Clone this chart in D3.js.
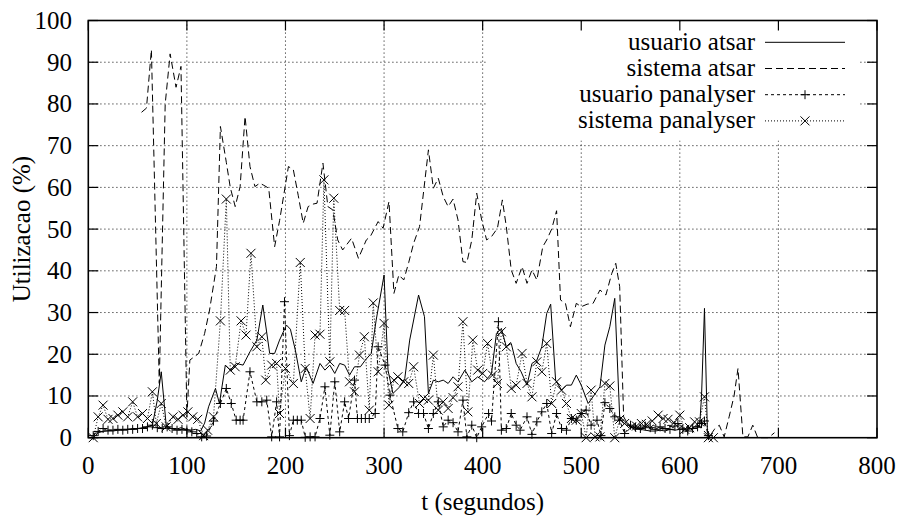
<!DOCTYPE html>
<html>
<head>
<meta charset="utf-8">
<script src="https://cdn.jsdelivr.net/npm/d3@7"></script>
<style>
  body { margin: 0; background: #fff; }
  svg { display: block; }
</style>
</head>
<body>
<svg id="chart"></svg>
<script>

// tick labels
var xTicks = [0, 100, 200, 300, 400, 500, 600, 700, 800];
var yTicks = [0, 10, 20, 30, 40, 50, 60, 70, 80, 90, 100];

var seriesNames = ["usuario atsar", "sistema atsar", "usuario panalyser", "sistema panalyser"];

// [t (s), utilizacao %]
var usuarioAtsar = [[5,1],[10,1.2],[15,1.5],[20,1.6],[25,1.6],[30,1.8],[35,2],[40,2],[45,2.2],[50,2.2],[55,2.4],[60,2.6],[65,3],[70,9],[74,15.8],[79,3],[84,2.2],[89,2],[94,2.4],[99,2],[104,1.8],[109,2],[114,1.6],[118,3.5],[122,7.4],[129,11.8],[133,8.2],[139,17.4],[144,16.2],[150,17.8],[157,17.4],[164,20.6],[171,23.4],[177,31.8],[184,20.2],[189,20.2],[194,23.4],[201,27],[205,26],[210,21],[216,13.4],[221,17],[228,13],[235,17.8],[240,16.2],[245,17.4],[250,15.4],[255,17.8],[260,17.4],[265,15],[270,17],[276,17],[281,18.6],[287,20.2],[292,28.2],[300,39],[304,16.2],[309,10.6],[316,12.2],[321,14.2],[326,23.4],[335,34.2],[341,29],[345,10.6],[350,13.8],[355,13.4],[360,13.8],[365,13],[370,14.6],[375,13.4],[382,16.2],[389,13.4],[395,14.6],[402,13.4],[409,15.4],[414,25],[419,26.2],[424,21.8],[429,22.6],[434,17.8],[439,15.8],[445,12.6],[450,17.8],[455,18.6],[460,21.8],[465,29.8],[469,32],[474,13.8],[480,11.4],[485,12.6],[490,12.6],[495,15],[500,12.6],[507,8.2],[512,9.8],[519,12.2],[524,22.2],[529,26.6],[534,33.4],[539,5],[544,4],[550,2.5],[555,2],[560,2],[565,1.8],[570,1.6],[575,1.6],[580,1.8],[585,1.6],[590,2],[595,1.8],[600,2],[605,2.2],[610,2],[615,2.6],[620,2.5],[622,9.8],[625,31],[628,1],[631,0]];

var sistemaAtsar = [[54,78],[59,79],[64,93],[72,13],[78,80],[83,92],[89,84],[94,89],[100,5],[103,18.6],[108,19.5],[112,20.2],[118,25],[123,30.6],[130,41],[134,74.6],[140,66],[144,60],[149,55.4],[154,60.2],[159,77],[164,65],[169,60.2],[174,61],[178,60.5],[183,59.8],[189,45.8],[194,52],[203,65],[208,64.2],[213,58],[218,51.4],[223,55.4],[228,56],[232,56.2],[238,65.8],[243,55.4],[248,54.6],[253,47.4],[258,45],[267,47.8],[274,43],[282,47.4],[286,48.2],[290,50],[294,51.8],[299,50.2],[305,56.6],[310,34.6],[315,39],[320,37.8],[325,42],[330,46.6],[336,50.6],[345,69],[350,59.8],[355,62.2],[360,57.8],[365,55.4],[370,57.2],[375,52.2],[380,42.2],[384,42],[389,47.4],[394,58.6],[399,52.2],[404,47.4],[409,48.2],[415,50.2],[420,57],[424,50.6],[429,40.2],[434,37],[440,41],[445,37],[450,40.2],[455,37.8],[461,45.8],[465,47.4],[470,50],[475,54.4],[479,33],[484,32.2],[489,26.6],[495,32.2],[500,31.4],[506,32],[512,32.2],[519,35.4],[525,34.2],[531,39.4],[535,41.8],[539,36.2],[543,5],[548,3],[553,2.5],[558,2],[563,2.5],[568,2],[573,3],[578,2.5],[583,2],[588,3],[593,2.5],[598,2],[603,3],[608,2.5],[613,2],[618,3],[623,2],[630,0.2],[635,2],[640,3],[645,0.2],[650,5],[655,10],[659,16.6],[664,0.2],[669,0.2],[674,3],[679,0],[684,0],[689,0],[693,0.6],[696,1.2]];

var usuarioPanalyser = [[5,0.5],[10,1.5],[15,2.2],[20,1.8],[25,1.8],[30,2],[35,1.8],[40,2],[45,2],[50,2.2],[55,2.2],[60,2.6],[65,3],[70,2.4],[75,2.2],[80,2.6],[85,2.2],[90,1.8],[95,2],[100,1.8],[105,1.4],[110,1],[115,0.2],[120,0.4],[127,4],[134,8.2],[140,11.8],[145,8.2],[150,4.2],[154,4.2],[157,4.2],[164,15.8],[171,8.6],[176,8.6],[181,9],[186,0.2],[191,8.6],[194,0.2],[199,32.6],[204,0.5],[208,4.2],[212,4.2],[216,4.2],[220,0.1],[225,0.2],[230,0.2],[235,4.6],[240,12.2],[245,0.6],[250,13.4],[255,1.4],[260,8.6],[264,4.6],[270,13.8],[273,4.6],[277,4.6],[281,4.6],[285,4.6],[291,5.8],[294,21.8],[301,17.4],[306,10.2],[314,2.2],[319,1.4],[325,6],[330,8.6],[335,5.8],[340,5.8],[345,2.2],[350,5.8],[355,8.6],[360,2.6],[365,4.2],[370,3.6],[375,1.4],[380,9],[384,0.2],[389,3],[394,0],[399,2.6],[406,5.8],[409,4],[416,27.8],[419,1.8],[424,2.2],[429,5.8],[434,3],[438,1.8],[445,5],[450,0.8],[455,3.8],[460,6.2],[465,8.2],[470,1],[475,5.8],[480,2.2],[485,1.8],[490,4.6],[495,4.2],[500,5.8],[505,6.6],[510,3],[516,4.2],[520,0.5],[524,8.4],[529,7],[534,5],[539,4.2],[544,1],[550,3],[555,2.5],[560,2.2],[565,2.8],[570,2.4],[575,2],[580,2.6],[585,2.2],[590,2],[595,2.8],[598,3.4],[603,2],[608,1.6],[613,2.2],[618,2.6],[622,3.4],[625,4],[629,0.5]];

var sistemaPanalyser = [[5,0],[10,5],[15,7.8],[20,4.4],[25,4.6],[30,5.4],[35,6.2],[40,5],[45,8.6],[50,5],[55,5.8],[60,4.6],[65,11],[69,3.4],[74,8.2],[79,2.6],[86,5],[91,4.4],[96,5.4],[101,6.2],[106,5],[111,4.4],[117,0.5],[121,1.8],[127,5],[134,28],[140,57.2],[144,16.2],[149,17],[155,28],[160,24.6],[165,44.2],[171,21.8],[176,24.2],[180,13.8],[186,17.4],[191,17.8],[194,5.8],[200,16.6],[208,13],[215,42],[220,16.6],[225,4.6],[230,24.6],[235,24.8],[239,61.8],[245,18.2],[249,57.4],[255,30.5],[260,30.5],[265,13.4],[270,11],[275,19.8],[280,24.2],[285,6.6],[289,32.3],[294,15.8],[300,27.4],[305,7.8],[310,13.8],[314,14.6],[320,13.4],[325,13],[330,17],[336,8.2],[340,9.4],[345,9],[350,19.8],[355,6.6],[360,8.6],[365,7],[370,9.6],[375,12.2],[380,27.8],[385,6.2],[390,23.4],[395,16.2],[400,15.4],[405,22.6],[410,15],[415,13],[419,25.4],[424,21.8],[429,11.8],[434,12.6],[440,20.2],[445,13],[450,9.8],[455,18.2],[460,15.8],[465,22.6],[470,8.2],[475,13.4],[480,11.4],[485,8.2],[490,4.6],[495,4.2],[500,5.8],[505,0],[510,11.4],[514,0.2],[519,0.2],[524,13],[529,12.4],[534,0],[539,4.4],[544,3.4],[551,2.6],[556,2.8],[561,3.4],[566,3.2],[572,4],[578,5.4],[583,4.6],[588,4.4],[594,3.6],[600,5.4],[605,2],[610,2.4],[615,3.8],[620,3.8],[625,9.8],[629,0],[634,0]];

var W = 899, H = 516;
var plot = {left: 88.3, right: 877, top: 20.5, bottom: 437.7};
var FONT = "Times New Roman, Times, Liberation Serif, DejaVu Serif, Noto Serif, FreeSerif, serif";

var svg = d3.select("#chart")
    .attr("width", W)
    .attr("height", H)
    .attr("font-family", FONT);

var x = d3.scaleLinear().domain([0, 800]).range([plot.left, plot.right]);
var y = d3.scaleLinear().domain([0, 100]).range([plot.bottom, plot.top]);

// grid
var grid = svg.append("g").attr("class", "grid")
    .attr("stroke", "#333").attr("stroke-width", 1).attr("stroke-dasharray", "1.2,2.8");

grid.selectAll(".vg").data(xTicks.slice(1, -1)).enter().append("line")
    .attr("x1", function(d) { return x(d); }).attr("x2", function(d) { return x(d); })
    .attr("y1", plot.top).attr("y2", plot.bottom);

grid.selectAll(".hg").data(yTicks.slice(1, -1)).enter().append("line")
    .attr("x1", plot.left).attr("x2", plot.right)
    .attr("y1", function(d) { return y(d); }).attr("y2", function(d) { return y(d); });

// key area is kept clear of the grid
svg.append("rect")
    .attr("x", 486).attr("y", plot.top + 1)
    .attr("width", 374).attr("height", 119)
    .attr("fill", "#fff");

var line = d3.line()
    .x(function(d) { return x(d[0]); })
    .y(function(d) { return y(d[1]); });

var styles = [
  {data: usuarioAtsar, dash: null, mark: null},
  {data: sistemaAtsar, dash: "7,4", mark: null},
  {data: usuarioPanalyser, dash: "3,3", mark: "plus"},
  {data: sistemaPanalyser, dash: "1,2", mark: "cross"}
];

function markPath(type, cx, cy) {
  if (type == "plus") {
    var s = 4.5;
    return "M" + (cx - s) + "," + cy + "H" + (cx + s) + "M" + cx + "," + (cy - s) + "V" + (cy + s);
  } else {
    var c = 4.5;
    return "M" + (cx - c) + "," + (cy - c) + "L" + (cx + c) + "," + (cy + c) +
           "M" + (cx - c) + "," + (cy + c) + "L" + (cx + c) + "," + (cy - c);
  }
}

styles.forEach(function(s) {
  svg.append("path")
      .datum(s.data)
      .attr("fill", "none")
      .attr("stroke", "#000")
      .attr("stroke-width", 1)
      .attr("stroke-dasharray", s.dash)
      .attr("d", line);

  if (s.mark) {
    svg.append("g").selectAll("path")
        .data(s.data)
      .enter().append("path")
        .attr("fill", "none")
        .attr("stroke", "#000")
        .attr("stroke-width", 1)
        .attr("d", function(d) { return markPath(s.mark, x(d[0]), y(d[1])); });
  }
});

// border
svg.append("rect")
    .attr("x", plot.left).attr("y", plot.top)
    .attr("width", plot.right - plot.left).attr("height", plot.bottom - plot.top)
    .attr("fill", "none").attr("stroke", "#000").attr("stroke-width", 1.6);

// inward ticks on all four sides
var ticks = svg.append("g").attr("stroke", "#000").attr("stroke-width", 1.2);
xTicks.forEach(function(t) {
  ticks.append("line").attr("x1", x(t)).attr("x2", x(t)).attr("y1", plot.bottom).attr("y2", plot.bottom - 10);
  ticks.append("line").attr("x1", x(t)).attr("x2", x(t)).attr("y1", plot.top).attr("y2", plot.top + 10);
});
yTicks.forEach(function(t) {
  ticks.append("line").attr("x1", plot.left).attr("x2", plot.left + 10).attr("y1", y(t)).attr("y2", y(t));
  ticks.append("line").attr("x1", plot.right).attr("x2", plot.right - 10).attr("y1", y(t)).attr("y2", y(t));
});

function label(sel) {
  return sel.attr("font-family", FONT).attr("font-size", 25).attr("fill", "#000");
}

// tick labels
svg.append("g").selectAll("text")
    .data(yTicks)
  .enter().append("text")
    .attr("x", 72)
    .attr("y", function(d) { return y(d) + 8.5; })
    .attr("text-anchor", "end")
    .call(label)
    .text(function(d) { return d; });

svg.append("g").selectAll("text")
    .data(xTicks)
  .enter().append("text")
    .attr("x", function(d) { return x(d); })
    .attr("y", 474)
    .attr("text-anchor", "middle")
    .call(label)
    .text(function(d) { return d; });

// axis titles
svg.append("text")
    .attr("x", (plot.left + plot.right) / 2)
    .attr("y", 510)
    .attr("text-anchor", "middle")
    .call(label)
    .text("t (segundos)");

svg.append("text")
    .attr("transform", "translate(30," + ((plot.top + plot.bottom) / 2) + ") rotate(-90)")
    .attr("text-anchor", "middle")
    .call(label)
    .text("Utilizacao (%)");

// key
var keyY = [42.3, 68.5, 94.7, 120.9];
var key = svg.append("g");
styles.forEach(function(s, i) {
  key.append("text")
      .attr("x", 755)
      .attr("y", keyY[i] + 7.5)
      .attr("text-anchor", "end")
      .call(label)
      .text(seriesNames[i]);
  key.append("line")
      .attr("x1", 765).attr("x2", 845)
      .attr("y1", keyY[i]).attr("y2", keyY[i])
      .attr("stroke", "#000").attr("stroke-width", 1)
      .attr("stroke-dasharray", s.dash);
  if (s.mark) {
    key.append("path")
        .attr("fill", "none").attr("stroke", "#000").attr("stroke-width", 1)
        .attr("d", markPath(s.mark, 805, keyY[i]));
  }
});

</script>
</body>
</html>
